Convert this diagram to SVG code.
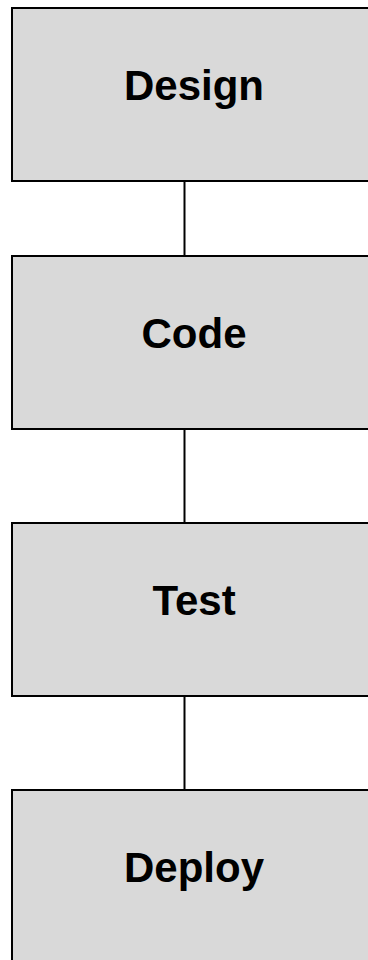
<svg xmlns="http://www.w3.org/2000/svg" width="368" height="960" viewBox="0 0 368 960">
<style>
.box{fill:#d9d9d9;stroke:#000;stroke-width:2}
.lbl{font-family:"Liberation Sans",Arial,sans-serif;font-weight:bold;font-size:42px;fill:#000;text-anchor:middle}
.conn{stroke:#000;stroke-width:2;fill:none}
</style>
<rect width="368" height="960" fill="#fff"/>
<g id="connectors">
<line class="conn" x1="184.5" y1="181" x2="184.5" y2="256"/>
<line class="conn" x1="184.5" y1="429" x2="184.5" y2="523"/>
<line class="conn" x1="184.5" y1="696" x2="184.5" y2="790"/>
</g>
<g id="design">
<rect class="box" x="12" y="8" width="366" height="173"/>
<text class="lbl" x="194" y="100">Design</text>
</g>
<g id="code">
<rect class="box" x="12" y="256" width="366" height="173"/>
<text class="lbl" x="194" y="348">Code</text>
</g>
<g id="test">
<rect class="box" x="12" y="523" width="366" height="173"/>
<text class="lbl" x="194" y="615">Test</text>
</g>
<g id="deploy">
<rect class="box" x="12" y="790" width="366" height="173"/>
<text class="lbl" x="194" y="882">Deploy</text>
</g>
</svg>
